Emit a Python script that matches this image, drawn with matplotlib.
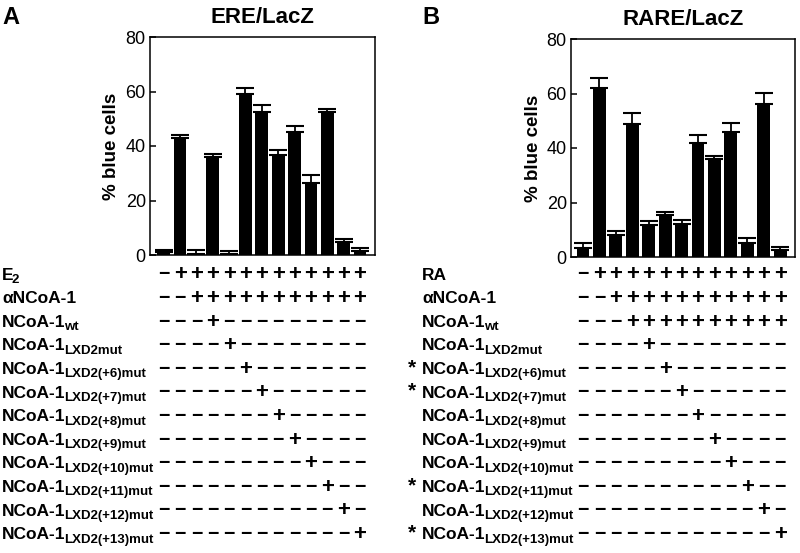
import matplotlib
matplotlib.use("Agg")
import matplotlib.pyplot as plt
from matplotlib.transforms import blended_transform_factory

# ---------------- data ----------------
ere_values = [1.0, 43.0, 0.5, 36.0, 0.3, 59.0, 52.4, 36.8, 45.1, 26.3, 52.6, 4.9, 1.5]
ere_errors = [1.0, 1.1, 1.5, 1.1, 1.2, 2.4, 2.8, 1.6, 2.4, 3.0, 1.0, 1.0, 1.0]
rare_values = [3.3, 62.0, 8.2, 48.7, 11.8, 15.5, 12.0, 41.9, 36.0, 45.8, 5.1, 56.1, 2.4]
rare_errors = [1.8, 3.8, 1.2, 4.1, 1.4, 0.9, 1.4, 2.9, 1.1, 3.3, 1.9, 4.2, 1.3]

yticks = [0, 20, 40, 60, 80]

ere_title = "ERE/LacZ"
rare_title = "RARE/LacZ"
ylabel = "% blue cells"

# row labels: (main text, subscript)
ere_rows = [
    ("E", "2"), ("\u03b1NCoA-1", ""), ("NCoA-1", "wt"), ("NCoA-1", "LXD2mut"),
    ("NCoA-1", "LXD2(+6)mut"), ("NCoA-1", "LXD2(+7)mut"), ("NCoA-1", "LXD2(+8)mut"),
    ("NCoA-1", "LXD2(+9)mut"), ("NCoA-1", "LXD2(+10)mut"), ("NCoA-1", "LXD2(+11)mut"),
    ("NCoA-1", "LXD2(+12)mut"), ("NCoA-1", "LXD2(+13)mut"),
]
ere_signs = [
    "-++++++++++++",
    "--+++++++++++",
    "---+---------",
    "----+--------",
    "-----+-------",
    "------+------",
    "-------+-----",
    "--------+----",
    "---------+---",
    "----------+--",
    "-----------+-",
    "------------+",
]
rare_rows = [
    ("RA", ""), ("\u03b1NCoA-1", ""), ("NCoA-1", "wt"), ("NCoA-1", "LXD2mut"),
    ("NCoA-1", "LXD2(+6)mut"), ("NCoA-1", "LXD2(+7)mut"), ("NCoA-1", "LXD2(+8)mut"),
    ("NCoA-1", "LXD2(+9)mut"), ("NCoA-1", "LXD2(+10)mut"), ("NCoA-1", "LXD2(+11)mut"),
    ("NCoA-1", "LXD2(+12)mut"), ("NCoA-1", "LXD2(+13)mut"),
]
rare_signs = [
    "-++++++++++++",
    "--+++++++++++",
    "---++++++++++",
    "----+--------",
    "-----+-------",
    "------+------",
    "-------+-----",
    "--------+----",
    "---------+---",
    "----------+--",
    "-----------+-",
    "------------+",
]
rare_stars = [False, False, False, False, True, True, False, False, False, True, False, True]

# ---------------- figure ----------------
W, H = 800, 553
fig = plt.figure(figsize=(W / 100, H / 100), dpi=100)
FONT = ["Liberation Sans", "DejaVu Sans"]
plt.rcParams["font.family"] = FONT


def px_ax(left, top, right, bottom):
    return fig.add_axes([left / W, 1 - bottom / H, (right - left) / W, (bottom - top) / H])


def draw_panel(ax, values, errors, title, xlim, label_x):
    x = list(range(len(values)))
    ax.bar(x, values, width=0.78, color="black", zorder=2)
    ax.errorbar(x, values, yerr=[[0] * len(errors), errors], fmt="none",
                ecolor="black", elinewidth=1.3, capsize=6.5, capthick=1.5, zorder=3)
    ax.set_ylim(0, 80)
    ax.set_xlim(*xlim)
    ax.set_yticks(yticks)
    ax.set_xticks([])
    ax.tick_params(axis="y", direction="in", length=4, width=1.1, labelsize=13, pad=3)
    for s in ax.spines.values():
        s.set_linewidth(1.1)
    ax.set_title(title, fontsize=16, fontweight="bold", pad=10)
    ax.set_ylabel(ylabel, fontsize=13.5, fontweight="bold")
    ax.yaxis.set_label_coords(label_x, 0.5)


axA = px_ax(150, 37, 375, 255)
axB = px_ax(571, 39, 795, 257)
draw_panel(axA, ere_values, ere_errors, ere_title, (-0.84, 12.92), -0.135)
draw_panel(axB, rare_values, rare_errors, rare_title, (-0.73, 12.9), -0.13)

fig.text(2 / W, 1 - 17 / H, "A", fontsize=17, fontweight="bold", va="center", ha="left")
fig.text(422 / W, 1 - 17 / H, "B", fontsize=17, fontweight="bold", va="center", ha="left")

renderer = fig.canvas.get_renderer()
row_y0 = 275
row_dy = 23.6


def draw_table(ax, rows, signs, label_x, stars=None):
    trans = blended_transform_factory(ax.transData, fig.transFigure)
    for i, ((main, sub), sg) in enumerate(zip(rows, signs)):
        yp = row_y0 + i * row_dy
        yf = 1 - yp / H
        t = fig.text(label_x / W, yf, main, fontsize=12.5, fontweight="bold",
                     va="center", ha="left")
        if sub:
            bb = t.get_window_extent(renderer)
            fig.text((bb.x1 - 1.5) / W, 1 - (yp + 5) / H, sub, fontsize=9.5,
                     fontweight="bold", va="center", ha="left")
        if stars is not None and stars[i]:
            fig.text((label_x - 14) / W, 1 - (yp - 2) / H, "*", fontsize=15,
                     fontweight="bold", va="center", ha="left")
        for j, c in enumerate(sg):
            if c == "+":
                ax.text(j, yf, "+", transform=trans, fontsize=16, fontweight="bold",
                        ha="center", va="center", clip_on=False)
            else:
                ax.text(j, yf, "\u2212", transform=trans, fontsize=14, fontweight="bold",
                        ha="center", va="center", clip_on=False)


draw_table(axA, ere_rows, ere_signs, 2)
draw_table(axB, rare_rows, rare_signs, 422, rare_stars)

fig.savefig("out.png", dpi=100)
